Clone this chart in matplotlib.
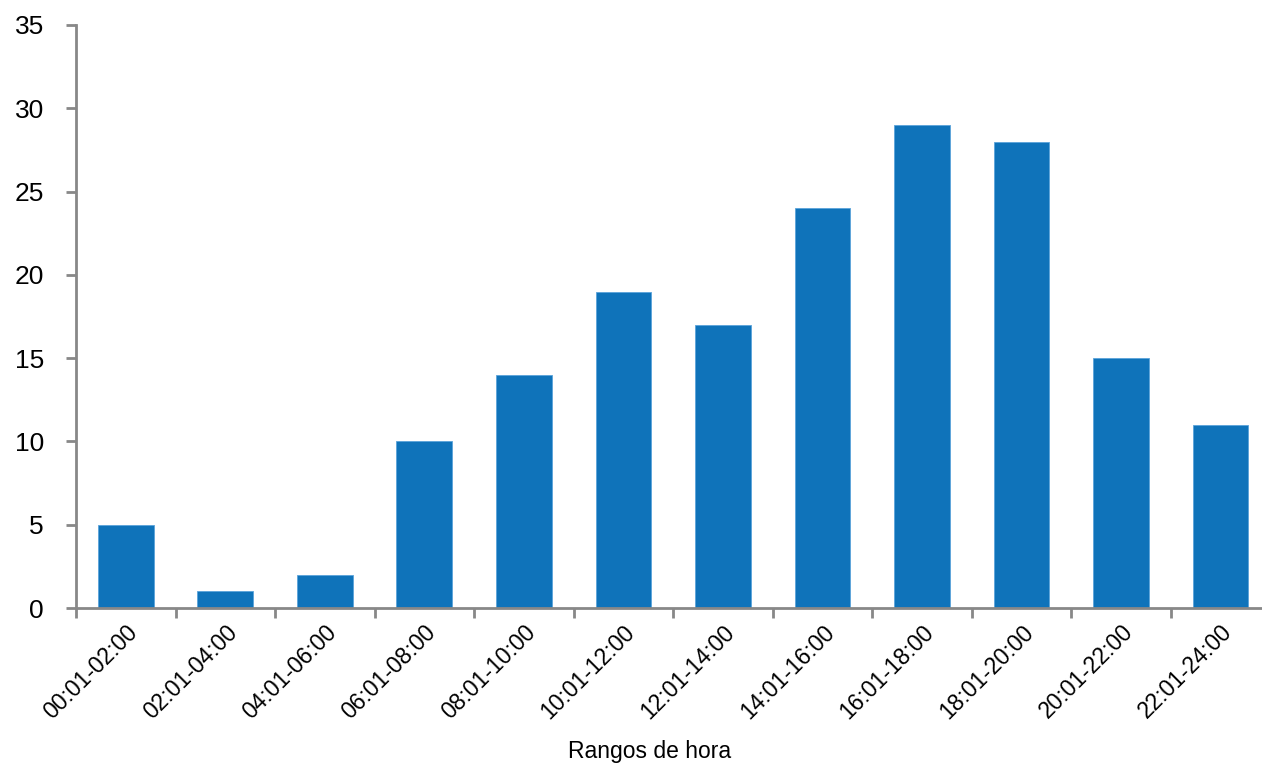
import numpy as np
import matplotlib.pyplot as plt
from matplotlib.ticker import FixedLocator, MultipleLocator

plt.rcParams["font.family"] = ["Liberation Sans", "DejaVu Sans"]

rangos = ["00:01-02:00", "02:01-04:00", "04:01-06:00", "06:01-08:00",
          "08:01-10:00", "10:01-12:00", "12:01-14:00", "14:01-16:00",
          "16:01-18:00", "18:01-20:00", "20:01-22:00", "22:01-24:00"]
valores = [5, 1, 2, 10, 14, 19, 17, 24, 29, 28, 15, 11]

fig = plt.figure(figsize=(12.62, 7.66), dpi=100)
ax = fig.add_axes([76 / 1262, 1 - 608 / 766, (1262 - 76) / 1262, (608 - 25) / 766])

x = np.arange(len(rangos))
ax.bar(x, valores, width=0.56, color="#0F73BA", edgecolor="#5AA3DA", linewidth=0.6, zorder=2)

ax.set_xlim(-0.5, -0.5 + (1262 - 75.2) / 99.6)
ax.set_ylim(0, 35)
ax.yaxis.set_major_locator(MultipleLocator(5))

ax.set_xticks(x)
ax.set_xticklabels(rangos, rotation=45, ha="right", va="top", rotation_mode="anchor", fontsize=16.5)
ax.tick_params(axis="x", which="major", length=0, pad=9)
ax.xaxis.set_minor_locator(FixedLocator(np.arange(-0.5, len(rangos), 1)))
ax.tick_params(axis="x", which="minor", length=7, width=2, color="#888888", direction="out")
ax.tick_params(axis="y", length=7, width=2, color="#888888", direction="out", labelsize=19, pad=16)

for s in ["top", "right"]:
    ax.spines[s].set_visible(False)
for s in ["left", "bottom"]:
    ax.spines[s].set_color("#888888")
    ax.spines[s].set_linewidth(2)

ax.set_xlabel("Rangos de hora", fontsize=16.5)
ax.xaxis.set_label_coords((650 - 76) / (1262 - 76), -(740 - 608) / 583)

fig.savefig("out.png", dpi=100)
